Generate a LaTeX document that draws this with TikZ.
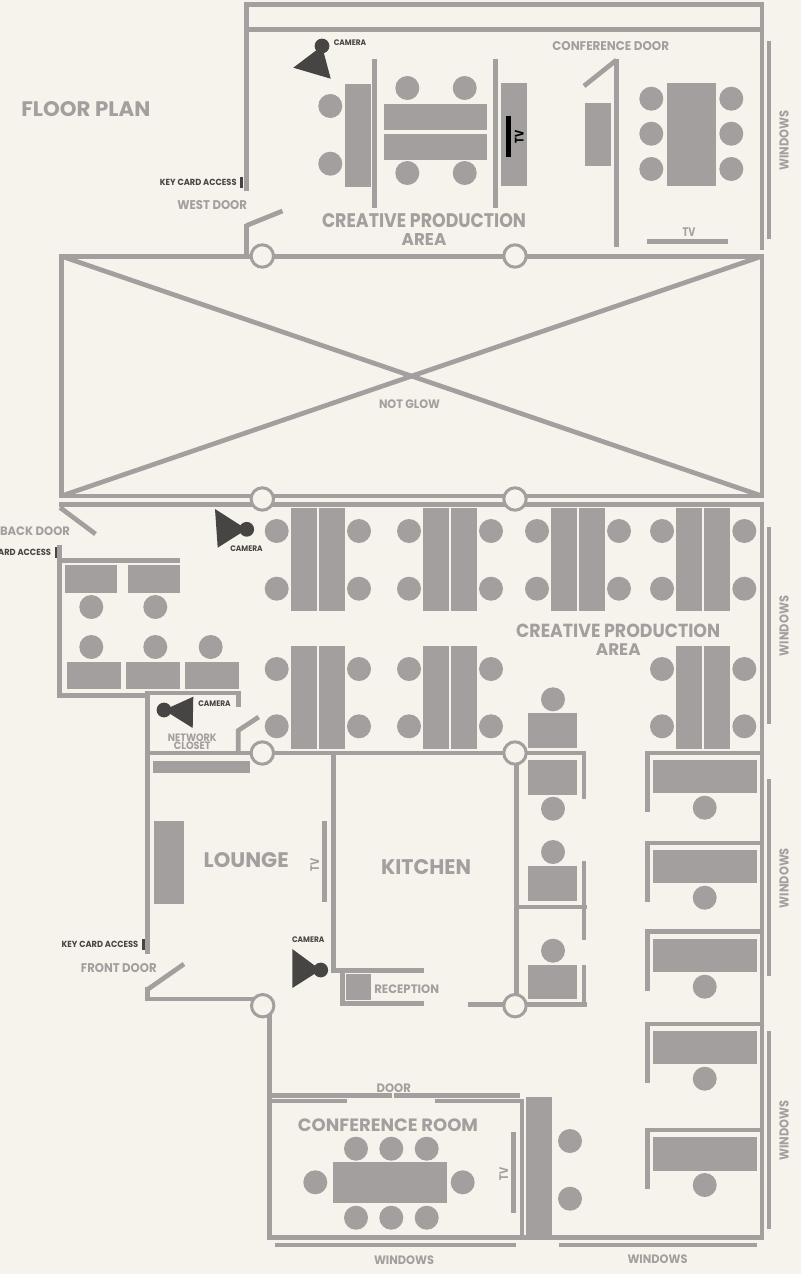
\documentclass[tikz,border=0pt]{standalone}
\usepackage{fontspec}
\usepackage{graphicx}
\setmainfont{Poppins}
\definecolor{bgc}{HTML}{F6F2EC}
\definecolor{wallc}{HTML}{A39F9E}
\definecolor{darkc}{HTML}{474543}
\newcommand{\fit}[3]{\resizebox{#1pt}{#2pt}{\bfseries #3}}
\newcommand{\seat}[2]{\fill[wallc] (#1,#2) circle (12pt);}
\newcommand{\furn}[4]{\fill[wallc] (#1,#2) rectangle (#3,#4);}
\newcommand{\columnmark}[2]{\draw[line width=3pt,draw=wallc,fill=bgc] (#1,#2) circle (11.2pt);}
\newcommand{\cam}[8]{\fill[darkc] (#1,#2) -- (#3,#4) -- (#5,#6) -- cycle; \fill[darkc] (#7,#8) circle (7.4pt);}
\tikzset{
  wall/.style={draw=wallc,line width=4.7pt},
  lbl/.style={inner sep=0pt,outer sep=0pt,text=wallc},
  dlbl/.style={inner sep=0pt,outer sep=0pt,text=darkc},
}
\begin{document}
\begin{tikzpicture}[x=1pt,y=-1pt]
\useasboundingbox (0,0) rectangle (801,1274);
\fill[bgc] (0,0) rectangle (801,1274);
\clip (0,0) rectangle (801,1274);

% ---- top block walls
\draw[wall] (246.5,191) -- (246.5,4.7) -- (762,4.7) -- (762,250);
\draw[wall] (249,29.5) -- (762,29.5);
\draw[wall] (769,41) -- (769,239);
\draw[wall] (374.5,58.5) -- (374.5,208);
\draw[wall] (495.5,58.5) -- (495.5,208);
\draw[wall] (616.5,58.5) -- (616.5,247);
\draw[wall] (616.5,60) -- (584,86);
\draw[wall] (647,241.5) -- (727.7,241.5);
\draw[wall] (246.5,225.5) -- (282.5,211);
\draw[wall] (246.5,224) -- (246.5,256);
% ---- void with cross
\draw[wall,line join=miter] (61.3,256.2) rectangle (762,496);
\draw[wall] (61.3,256.2) -- (762,496);
\draw[wall] (61.3,496) -- (762,256.2);
\draw[wall] (59,504.4) -- (764.3,504.4);
% ---- right wall
\draw[wall] (762,504) -- (762,1240);
\draw[wall] (769,527) -- (769,724);
\draw[wall] (769,779) -- (769,976);
\draw[wall] (769,1031) -- (769,1228.7);
% ---- back office
\draw[wall] (60,507.5) -- (95.5,534);
\draw[wall] (59.7,545) -- (59.7,697.7);
\draw[wall] (60,560.8) -- (180,560.8);
\draw[wall] (57.4,695.5) -- (148,695.5);
\draw[wall] (145,693) -- (238.3,693) -- (238.3,706.7);
% ---- closet and lounge
\draw[wall] (147.3,691) -- (147.3,954);
\draw[wall] (238.3,753) -- (238.3,730.5) -- (258.7,717);
\draw[wall] (145,753) -- (586,753);
\draw[wall] (333.7,753) -- (333.7,970.5) -- (424,970.5);
\draw[wall] (342.7,970.5) -- (342.7,1003.7);
\draw[wall] (340.4,1003.7) -- (424,1003.7);
\draw[wall] (324.5,821.3) -- (324.5,902.3);
\draw[wall] (147.3,987) -- (147.3,999);
\draw[wall] (147.5,989.5) -- (184,964);
\draw[wall] (145,999) -- (262,999);
\draw[wall] (269.7,1010) -- (269.7,1240);
% ---- conference room
\draw[wall] (269,1095.7) -- (392.3,1095.7);
\draw[wall] (394.3,1095.7) -- (520,1095.7);
\draw[wall] (270,1101) -- (347,1101);
\draw[wall] (434.7,1101) -- (524.3,1101);
\draw[wall] (522,1099) -- (522,1237);
\draw[wall] (513.5,1132.3) -- (513.5,1213);
\draw[wall] (267.4,1237.7) -- (764.3,1237.7);
\draw[wall] (275,1245) -- (515.7,1245);
\draw[wall] (559,1245) -- (757,1245);
% ---- middle cubicles
\draw[wall] (516.7,753) -- (516.7,1006);
\draw[wall] (584,751) -- (584,798.7);
\draw[wall] (517,907) -- (586.5,907);
\draw[wall] (584,861) -- (584,940);
\draw[wall] (584,965) -- (584,1006.6);
\draw[wall] (468.3,1004.3) -- (586.5,1004.3);
% ---- right cubicles
\draw[wall] (647.8,811.7) -- (647.8,753) -- (762,753);
\draw[wall] (647.8,901.7) -- (647.8,843) -- (762,843);
\draw[wall] (647.8,990.7) -- (647.8,931.7) -- (762,931.7);
\draw[wall] (647.8,1083) -- (647.8,1024) -- (762,1024);
\draw[wall] (647.8,1189.3) -- (647.8,1130) -- (762,1130);
% ---- key card bars
\fill[darkc] (240.3,176.7) rectangle (243,188);
\fill[darkc] (55,546.7) rectangle (57.3,558.3);
\fill[darkc] (142.3,938.7) rectangle (144.7,950);

% ---- furniture, top
\furn{344.5}{83.5}{370.5}{186.5}
\furn{384.3}{104.3}{487.3}{130.3}
\furn{384.3}{134.3}{487.3}{160.3}
\furn{501.3}{83.3}{527.3}{186.3}
\fill[black] (506,116) rectangle (511,156.7);
\furn{585.3}{103.3}{611.3}{166.3}
\furn{667}{83.3}{716}{186.3}
\foreach \p in {(330.3,106),(330.3,163.7),(407.3,88),(464.7,88),(407.3,173),(464.7,173),(651.3,98.7),(651.3,133.7),(651.3,169),(731.3,98.7),(731.3,133.7),(731.3,169)}
  {\fill[wallc] \p circle (12pt);}

% ---- furniture, creative area
\foreach \a/\c/\d/\b in {291/276.7/359/317,423/409/491/449,551/537/619/577,676.3/662/744.3/702}{
  \pgfmathsetmacro{\q}{\a+28}\pgfmathsetmacro{\r}{\a+54}
  \furn{\a}{508.3}{\b}{611.3}
  \furn{\q}{508.3}{\r}{611.3}
  \seat{\c}{531}\seat{\c}{588.7}\seat{\d}{531}\seat{\d}{588.7}
}
\foreach \a/\c/\d/\b in {291/276.7/359/317,423/409/491/449,676.3/662/744.3/702}{
  \pgfmathsetmacro{\q}{\a+28}\pgfmathsetmacro{\r}{\a+54}
  \furn{\a}{646}{\b}{749}
  \furn{\q}{646}{\r}{749}
  \seat{\c}{669}\seat{\c}{726.3}\seat{\d}{669}\seat{\d}{726.3}
}
% ---- back office furniture
\furn{65.3}{564.7}{117.3}{592.7}
\furn{128.3}{564.7}{180}{592.7}
\furn{66.7}{661.7}{120.7}{689.3}
\furn{126}{661.7}{180}{689.3}
\furn{185}{661.7}{238.7}{689.3}
\seat{91.3}{607}\seat{155.3}{607}\seat{91.3}{647}\seat{155.3}{647}\seat{210.7}{647}
% ---- lounge
\furn{153.3}{760.5}{250.3}{773}
\furn{153.7}{821}{183.7}{904}
\furn{345.7}{973.7}{371}{1000.3}
% ---- middle cubicles
\furn{528.3}{713.3}{577}{748}\seat{553}{699.3}
\furn{528.3}{760}{577}{794.7}\seat{553}{808.7}
\furn{528.3}{866.3}{577}{900.7}\seat{553}{852}
\furn{528.3}{965}{577}{999.3}\seat{553}{950.7}
% ---- right cubicles
\furn{653}{760}{757}{793.3}\seat{704.7}{807.7}
\furn{653}{850}{757}{883.3}\seat{704.7}{897.7}
\furn{653}{939}{757}{972.3}\seat{704.7}{986.7}
\furn{653}{1031}{757}{1064.3}\seat{704.7}{1078.7}
\furn{653}{1137.3}{757}{1171}\seat{704.7}{1185}
% ---- conference room
\furn{332.7}{1162}{447.3}{1203.3}
\furn{526}{1097}{552}{1236}
\foreach \x in {356,391.3,426.7}{\seat{\x}{1148.7}\seat{\x}{1217.7}}
\seat{315.3}{1182.3}\seat{462.7}{1182.3}
\seat{570}{1141}\seat{570}{1198.7}

% ---- column markers
\foreach \x/\y in {262.3/256,515/256,262.3/499,515/499,262.3/753,515/753,262.7/1005.7,515/1005.7}
  {\columnmark{\x}{\y}}

% ---- cameras
\cam{293.3}{67.7}{330.7}{78.7}{322}{46}{322}{46}
\cam{215}{509}{217.7}{547.7}{246.7}{529.3}{246.7}{529.3}
\cam{193.3}{696.7}{192.7}{728}{164}{710}{164}{710}
\cam{292.3}{949}{292.3}{988}{320.7}{970}{320.7}{970}

% ---- labels
\node[lbl] (floorplan) at (85.8,109.2) {\fit{129}{15}{FLOOR PLAN}};
\node[dlbl] (cam1) at (350,42.3) {\fit{32.5}{5.7}{CAMERA}};
\node[dlbl] (key1) at (198.3,182.2) {\fit{76.7}{6.3}{KEY CARD ACCESS}};
\node[lbl] (westdoor) at (212.2,205.5) {\fit{69.7}{9}{WEST DOOR}};
\node[lbl] (cpa1) at (424,221) {\fit{204}{14}{CREATIVE PRODUCTION}};
\node[lbl] (cpa1b) at (424,239) {\fit{44.7}{12}{AREA}};
\node[lbl] (confdoor) at (610.7,45.8) {\fit{116.7}{9}{CONFERENCE DOOR}};
\node[lbl,rotate=90] (win1) at (784,140.8) {\fit{60}{9.2}{WINDOWS}};
\node[lbl] (tv1) at (689,232) {\fit{12.7}{8.7}{TV}};
\node[inner sep=0pt,rotate=90,text=black] (tv2) at (519.2,137) {\fit{13}{8.7}{TV}};
\node[lbl] (notglow) at (409.5,404) {\fit{61}{8.7}{NOT GLOW}};
\node[lbl] (backdoor) at (35,531) {\fit{70}{8.7}{BACK DOOR}};
\node[dlbl] (key2) at (12.65,552.7) {\fit{76.7}{6.3}{KEY CARD ACCESS}};
\node[dlbl] (cam2) at (246.5,548.3) {\fit{32.4}{5.7}{CAMERA}};
\node[lbl] (cpa2) at (618.2,631.3) {\fit{204}{13.5}{CREATIVE PRODUCTION}};
\node[lbl] (cpa2b) at (618.3,649.8) {\fit{44.7}{11.8}{AREA}};
\node[lbl,rotate=90] (win2) at (784,626) {\fit{60}{9.2}{WINDOWS}};
\node[dlbl] (cam3) at (214.5,703.2) {\fit{32.4}{5.7}{CAMERA}};
\node[lbl] (net1) at (192.3,737.3) {\fit{48.7}{7.6}{NETWORK}};
\node[lbl] (net2) at (192.3,745.3) {\fit{36.7}{7.6}{CLOSET}};
\node[lbl] (lounge) at (246.2,859.7) {\fit{85}{15}{LOUNGE}};
\node[lbl] (kitchen) at (426,867.2) {\fit{90}{15}{KITCHEN}};
\node[lbl,rotate=90] (tv3) at (314.7,864.8) {\fit{13}{8.7}{TV}};
\node[lbl,rotate=90] (win3) at (784,878) {\fit{60}{9.2}{WINDOWS}};
\node[dlbl] (key3) at (100,944.5) {\fit{76.7}{6.3}{KEY CARD ACCESS}};
\node[lbl] (frontdoor) at (118.8,968.5) {\fit{75.7}{9}{FRONT DOOR}};
\node[dlbl] (cam4) at (308.2,939.5) {\fit{32.4}{5.7}{CAMERA}};
\node[lbl] (reception) at (406.7,989) {\fit{64.7}{8.7}{RECEPTION}};
\node[lbl] (door) at (393.8,1087.7) {\fit{34.3}{8.7}{DOOR}};
\node[lbl] (confroom) at (388,1125) {\fit{180}{12.7}{CONFERENCE ROOM}};
\node[lbl,rotate=90] (tv4) at (503.7,1173.7) {\fit{13}{8.7}{TV}};
\node[lbl,rotate=90] (win4) at (784,1130.5) {\fit{60}{9.2}{WINDOWS}};
\node[lbl] (win5) at (404,1259.7) {\fit{60}{8.7}{WINDOWS}};
\node[lbl] (win6) at (657.5,1259.4) {\fit{60}{8.7}{WINDOWS}};
\end{tikzpicture}
\end{document}
